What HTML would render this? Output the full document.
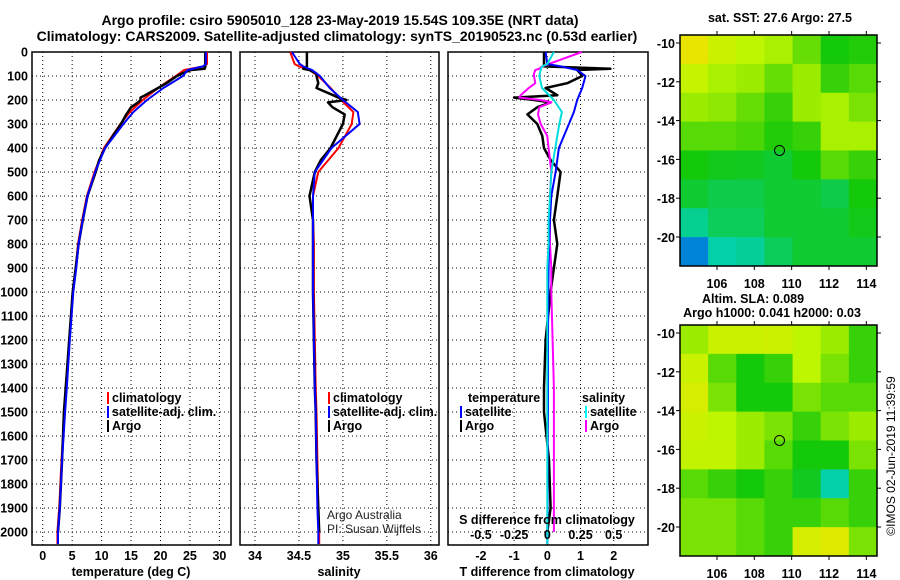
<!DOCTYPE html>
<html><head><meta charset="utf-8"><style>
html,body{margin:0;padding:0;background:#fff;}
svg{display:block;font-family:"Liberation Sans",sans-serif;}
.b{font-weight:bold;font-size:12.5px;}
</style></head><body>
<svg id="c" width="900" height="580" viewBox="0 0 900 580" xmlns="http://www.w3.org/2000/svg">
<text x="340" y="25" text-anchor="middle" font-weight="bold" font-size="14">Argo profile: csiro 5905010_128 23-May-2019 15.54S 109.35E (NRT data)</text>
<text x="337" y="41" text-anchor="middle" font-weight="bold" font-size="14">Climatology: CARS2009. Satellite-adjusted climatology: synTS_20190523.nc (0.53d earlier)</text>
<g id="g"></g>
</svg>
<script>
// ---- depth axis ----
const depthTicks=[0,100,200,300,400,500,600,700,800,900,1000,1100,1200,1300,1400,1500,1600,1700,1800,1900,2000];
// ---- temperature panel ----
const tTicks=[0,5,10,15,20,25,30];
const tDepth=[0,50,60,75,100,150,200,250,300,400,500,600,700,800,900,1000,1200,1400,1500,1700,1900,2000,2050];
const tClim=[27.9,27.9,27.3,24.0,22.6,19.6,17.0,14.8,13.2,10.4,8.8,7.5,6.7,6.0,5.6,5.1,4.5,4.0,3.7,3.2,2.8,2.5,2.5];
const tSat=[27.7,27.7,27.2,24.6,23.8,20.5,17.7,15.4,13.7,10.6,8.9,7.6,6.8,6.1,5.7,5.2,4.6,4.1,3.8,3.3,2.9,2.6,2.6];
const aDepth=[0,60,70,75,90,100,130,150,180,190,200,210,230,260,300,350,400,450,500,600,700,800,900,1000,1200,1400,1500,1700,1900,2000];
const tArgo=[27.6,27.6,27.5,25.2,23.6,22.8,21.0,19.6,17.4,16.6,16.6,16.2,15.0,14.2,13.3,11.9,10.6,9.6,9.0,7.6,6.8,6.1,5.6,5.1,4.5,3.9,3.6,3.3,2.9,2.6];
// ---- salinity panel ----
const sTicks=[34,34.5,35,35.5,36];
const sClim=[34.40,34.45,34.50,34.62,34.72,34.86,34.98,35.12,35.10,34.95,34.72,34.66,34.66,34.67,34.67,34.67,34.68,34.69,34.70,34.71,34.72,34.73,34.73];
const sSat=[34.42,34.51,34.55,34.65,34.74,34.85,35.00,35.17,35.19,34.87,34.68,34.66,34.66,34.66,34.66,34.66,34.67,34.68,34.69,34.70,34.71,34.72,34.72];
const sArgo=[34.59,34.59,34.55,34.62,34.70,34.70,34.72,34.70,34.89,34.95,35.04,34.83,34.88,35.02,35.00,34.93,34.86,34.75,34.68,34.62,34.66,34.66,34.66,34.66,34.67,34.68,34.69,34.70,34.72,34.73];
// ---- difference panel ----
const dTicks=[-2,-1,0,1,2];
const dsTicks=[-0.5,-0.25,0,0.25,0.5];
const dsTickLabels=["-0.5","-0.25","0","0.25","0.5"];
const tSatDiff=[-0.05,0.0,0.4,0.9,1.15,1.05,0.9,0.8,0.65,0.35,0.25,0.12,0.08,0.05,0.04,0.03,0.02,0.02,0.02,0.01,0.01,0.0,0.0];
const tArgoDiff=[-0.1,-0.1,1.9,0.9,1.0,1.05,0.6,-0.05,0.3,-1.0,-0.4,0.1,-0.3,-0.6,-0.3,-0.15,-0.1,0.1,0.4,0.3,0.2,0.3,0.2,0.1,-0.05,-0.1,-0.1,0.05,0.1,0.0];
const sSatDiff=[0.05,0.0,-0.04,-0.05,-0.06,-0.04,0.05,0.11,0.09,0.06,0.03,0.02,0.01,0.01,0.0,0.0,0.0,0.0,0.0,0.0,0.0,0.0,0.0];
const sArgoDiff=[0.26,-0.04,-0.06,-0.09,-0.1,-0.1,-0.09,-0.14,-0.2,-0.21,-0.05,0.03,-0.06,-0.07,-0.05,0.0,0.01,0.02,0.03,0.02,0.02,0.02,0.03,0.03,0.04,0.05,0.05,0.05,0.05,0.05];
// ---- maps ----
const lonTicks=[106,108,110,112,114];
const latTicks=[-10,-12,-14,-16,-18,-20];
const sstGrid=[
[.95,.8,.75,.72,.62,.5,.52],
[.78,.72,.7,.62,.7,.55,.6],
[.7,.68,.62,.55,.7,.72,.65],
[.6,.6,.58,.52,.55,.72,.72],
[.5,.48,.47,.45,.5,.6,.55],
[.45,.42,.42,.45,.45,.42,.5],
[.33,.4,.4,.45,.45,.45,.48],
[.12,.3,.32,.4,.45,.45,.45]];
const slaGrid=[
[.7,.8,.8,.82,.75,.7,.55],
[.8,.6,.5,.55,.75,.65,.55],
[.86,.65,.5,.5,.65,.6,.6],
[.8,.75,.7,.65,.55,.65,.7],
[.77,.77,.7,.6,.5,.5,.65],
[.6,.55,.5,.55,.47,.3,.55],
[.65,.65,.6,.55,.55,.6,.55],
[.65,.65,.6,.55,.85,.9,.65]];
const argoLon=109.35, argoLat=-15.54;

const NS="http://www.w3.org/2000/svg";
const G=document.getElementById('g');
function mk(tag,at,parent){const e=document.createElementNS(NS,tag);for(const k in at)e.setAttribute(k,at[k]);(parent||G).appendChild(e);return e;}
const Y0=52,Y1=545;
const yD=d=>Y0+d*0.24;
function panel(x0,x1,ticks,xf,name,tlabels){
  const g=mk('g',{});
  
  
  depthTicks.forEach(d=>{mk('line',{x1:x0,x2:x1,y1:yD(d),y2:yD(d),stroke:'#000','stroke-dasharray':'1,3'},g);});
  ticks.forEach(t=>{mk('line',{x1:xf(t),x2:xf(t),y1:Y0,y2:Y1,stroke:'#000','stroke-dasharray':'1,3'},g);});
  mk('rect',{x:x0,y:Y0,width:x1-x0,height:Y1-Y0,fill:'none',stroke:'#000','stroke-width':1.5},g);
  ticks.forEach((t,i)=>{const tx=mk('text',{x:xf(t),y:560,'text-anchor':'middle',class:'b'},g);tx.textContent=tlabels?tlabels[i]:String(t);
    
    });
  return g;
}
function line(depths,vals,xf,color,w,name){
  const p=mk('polyline',{points:vals.map((v,i)=>xf(v).toFixed(1)+','+yD(depths[i]).toFixed(1)).join(' '),fill:'none',stroke:color,'stroke-width':w,'stroke-linejoin':'round'});
  
  
}
const xT=t=>42.7+t*5.89;
const xS=s=>255+(s-34)*87.9;
const xDT=t=>547.3+t*33.2;
const xDS=s=>547.3+s*132.8;
panel(32,231,tTicks,xT,'temperature-panel');
panel(240,439,sTicks,xS,'salinity-panel');
panel(448,648,dTicks,xDT,'difference-panel');
depthTicks.forEach(d=>{const t=mk('text',{x:28,y:yD(d)+4.5,'text-anchor':'end',class:'b'});t.textContent=d;
  
  });
// series
line(tDepth,tClim,xT,'#f00',2,'temp-climatology-line');
line(aDepth,tArgo,xT,'#000',2.5,'temp-argo-line');
line(tDepth,tSat,xT,'#00f',2,'temp-satellite-line');
line(tDepth,sClim,xS,'#f00',2,'sal-climatology-line');
line(aDepth,sArgo,xS,'#000',2.5,'sal-argo-line');
line(tDepth,sSat,xS,'#00f',2,'sal-satellite-line');
line(aDepth,tArgoDiff,xDT,'#000',2.5,'tdiff-argo-line');
line(aDepth,sArgoDiff,xDS,'#f0f',2,'sdiff-argo-line');
line(tDepth,tSatDiff,xDT,'#00f',2,'tdiff-satellite-line');
line(tDepth,sSatDiff,xDS,'#0dd',2,'sdiff-satellite-line');
// texts
function txt(x,y,s,name,extra){const t=mk('text',Object.assign({x:x,y:y,class:'b'},extra||{}));t.textContent=s;
  
  return t;}
function leg(x,y,color,label,name){mk('rect',{x:x,y:y-10,width:2,height:12,fill:color});txt(x+5,y,label,name);}
txt(131,576,'temperature (deg C)','x-axis-title-temperature',{'text-anchor':'middle'});
txt(339,576,'salinity','x-axis-title-salinity',{'text-anchor':'middle'});
txt(547,576,'T difference from climatology','x-axis-title-tdiff',{'text-anchor':'middle'});
leg(107,402,'#f00','climatology','legend-climatology');
leg(107,416,'#00f','satellite-adj. clim.','legend-satellite');
leg(107,430,'#000','Argo','legend-argo');
leg(328,402,'#f00','climatology','legend2-climatology');
leg(328,416,'#00f','satellite-adj. clim.','legend2-satellite');
leg(328,430,'#000','Argo','legend2-argo');
txt(468,402,'temperature','legend-temperature-heading');
leg(460,416,'#00f','satellite','legend-t-satellite');
leg(460,430,'#000','Argo','legend-t-argo');
txt(582,402,'salinity','legend-salinity-heading');
leg(585,416,'#0ff','satellite','legend-s-satellite');
leg(585,430,'#f0f','Argo','legend-s-argo');
txt(547,524,'S difference from climatology','s-diff-axis-title',{'text-anchor':'middle'});
dsTicks.forEach((s,i)=>txt(xDS(s),539,dsTickLabels[i],'s-diff-tick-label',{'text-anchor':'middle'}));
const c1=mk('text',{x:327,y:519,'font-size':12,fill:'#222'});c1.textContent='Argo Australia';


const c2=mk('text',{x:327,y:533,'font-size':12,fill:'#222'});c2.textContent='PI: Susan Wijffels';


// maps
function cmap(v){const st=[[0,[0,60,220]],[0.25,[0,210,210]],[0.5,[20,200,10]],[0.75,[190,245,0]],[1,[245,225,0]]];
  for(let i=1;i<st.length;i++){if(v<=st[i][0]){const a=st[i-1],b=st[i],f=(v-a[0])/(b[0]-a[0]);return 'rgb('+a[1].map((c,j)=>Math.round(c+(b[1][j]-c)*f)).join(',')+')';}}return 'rgb(245,225,0)';}
function map(top,grid,name){
  const x0=680,x1=877,y0=top,y1=top+231;
  const lonX=l=>680+(l-104.02)*18.67, latY=l=>top+8+(-10-l)*19.4;
  const g=mk('g',{});
  
  
  const R=grid.length,C=grid[0].length,cw=(x1-x0)/C,ch=(y1-y0)/R;
  grid.forEach((row,r)=>row.forEach((v,c)=>{const cell=mk('rect',{x:x0+c*cw,y:y0+r*ch,width:cw+0.5,height:ch+0.5,fill:cmap(v)},g);
    
    }));
  mk('rect',{x:x0,y:y0,width:x1-x0,height:y1-y0,fill:'none',stroke:'#000','stroke-width':1.5},g);
  lonTicks.forEach(l=>{mk('line',{x1:lonX(l),x2:lonX(l),y1:y0-4,y2:y0,stroke:'#000'},g);mk('line',{x1:lonX(l),x2:lonX(l),y1:y1,y2:y1+4,stroke:'#000'},g);
    txt(lonX(l),y1+22,String(l),'map-lon-label',{'text-anchor':'middle'});});
  latTicks.forEach(l=>{mk('line',{x1:x0-4,x2:x0,y1:latY(l),y2:latY(l),stroke:'#000'},g);mk('line',{x1:x1,x2:x1+4,y1:latY(l),y2:latY(l),stroke:'#000'},g);
    txt(675,latY(l)+5,String(l),'map-lat-label',{'text-anchor':'end'});});
  const m=mk('circle',{cx:lonX(argoLon),cy:latY(argoLat),r:5,fill:'none',stroke:'#000'},g);
  
  
}
map(35,sstGrid,'sst-map');
map(325,slaGrid,'sla-map');
txt(780,22,'sat. SST: 27.6 Argo: 27.5','sst-map-title',{'text-anchor':'middle'});
txt(753,303,'Altim. SLA: 0.089','sla-map-title',{'text-anchor':'middle'});
txt(772,317,'Argo h1000: 0.041 h2000: 0.03','sla-map-subtitle',{'text-anchor':'middle'});
const v=mk('text',{x:0,y:0,'font-size':12,transform:'translate(895,456) rotate(-90)','text-anchor':'middle'});v.textContent='\u00a9IMOS 02-Jun-2019 11:39:59';


</script>
</body></html>
